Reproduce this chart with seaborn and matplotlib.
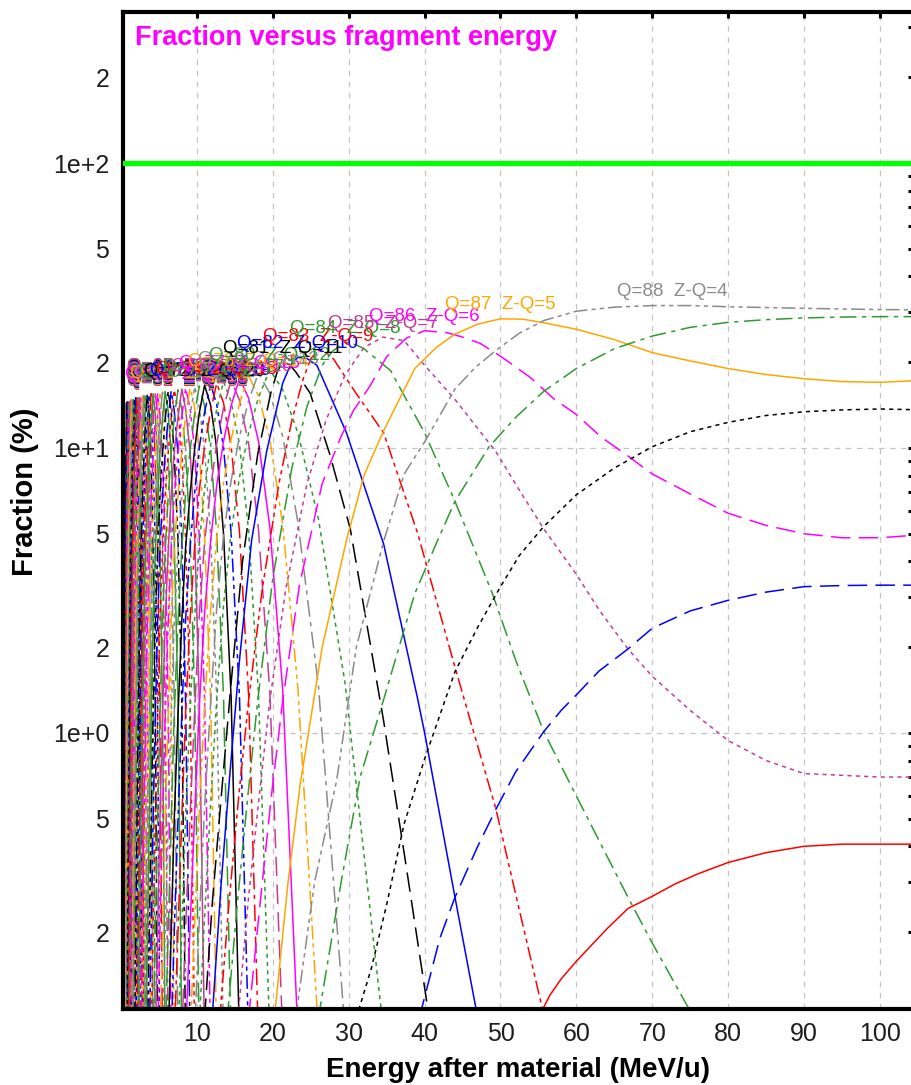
import numpy as np
import pandas as pd
import matplotlib

matplotlib.use("Agg")
import matplotlib.pyplot as plt
import seaborn as sns
from matplotlib.ticker import FixedLocator, LogLocator, FuncFormatter

Z = 92

# energy (MeV/u) where each charge state Q peaks, Q = 21 .. 88
peak_q = list(range(21, 89))
peak_e = [0.10, 0.12, 0.14, 0.16, 0.19, 0.22, 0.26, 0.30, 0.35, 0.40,
          0.45, 0.50, 0.56, 0.63, 0.70, 0.78, 0.86, 0.95, 1.05, 1.15,
          1.26, 1.38, 1.50, 1.63, 1.77, 1.92, 2.08, 2.25, 2.42, 2.60,
          2.80, 3.00, 3.20, 3.45, 3.70, 3.95, 4.20, 4.50, 4.80, 5.10,
          5.45, 5.80, 6.20, 6.60, 7.00, 7.50, 8.00, 8.50, 9.10, 9.70,
          10.3, 11.0, 11.8, 12.6, 13.5, 14.5, 15.6, 16.8, 18.1, 19.6,
          21.3, 23.3, 26.0, 29.5, 34.5, 40.0, 50.0, 72.6]

# low charge states (dense bundle on the left): peak fraction (%)
dense_q = list(range(30, 81))
dense_f = [14.2, 14.2, 14.3, 14.3, 14.4, 14.4, 14.5, 14.5, 14.6, 14.6,
           14.7, 14.7, 14.8, 14.8, 14.9, 14.9, 15.0, 15.0, 15.1, 15.1,
           15.2, 15.2, 15.3, 15.3, 15.4, 15.4, 15.5, 15.5, 15.6, 15.6,
           15.7, 15.7, 15.8, 15.8, 15.9, 16.0, 16.0, 16.1, 16.2, 16.3,
           16.4, 16.5, 16.6, 16.7, 16.9, 17.1, 17.3, 17.6, 17.9, 18.3, 18.8]
# fraction relative to the peak, read at the peak energy of Q-k (rise) and Q+k (fall)
rise_rel = [0.8, 0.6, 0.42, 0.27, 0.15, 0.07, 0.03, 0.012, 0.005]
fall_rel = [0.85, 0.6, 0.3, 0.08, 0.005]

# high charge states, read point by point
e_81 = [11.0, 12.0, 13.2, 14.5, 16.0, 18.0, 19.7, 20.6, 21.3, 22.2, 23.0, 24.9, 27.5, 30.2, 34.6, 37.5, 40.6]
f_81 = [0.1, 0.25, 0.6, 1.5, 4.0, 9.5, 15.5, 18.6, 20.0, 19.6, 18.5, 15.6, 9.5, 5.2, 1.1, 0.35, 0.1]
e_82 = [12.0, 13.2, 14.3, 15.6, 17.2, 19.2, 21.3, 22.3, 23.3, 24.5, 25.8, 29.7, 34.6, 39.1, 40.0, 44.0, 47.0]
f_82 = [0.1, 0.3, 0.7, 1.8, 4.75, 9.8, 16.9, 19.5, 20.8, 20.6, 19.5, 11.3, 4.6, 1.31, 1.0, 0.265, 0.1]
e_83 = [13.0, 14.2, 15.5, 16.8, 18.6, 20.8, 22.5, 24.0, 25.0, 26.0, 27.0, 28.0, 31.0, 34.6, 39.1, 44.0, 49.4, 52.5, 55.8]
f_83 = [0.1, 0.25, 0.6, 1.3, 3.2, 7.5, 12.5, 17.5, 20.6, 22.0, 21.6, 20.5, 15.5, 11.3, 5.0, 1.7, 0.54, 0.238, 0.1]
e_84 = [14.0, 15.3, 16.7, 18.0, 20.0, 22.5, 24.5, 26.5, 27.8, 29.5, 31.0, 32.0, 35.5, 40.0, 44.0, 48.9, 52.0, 55.7, 60.0, 66.8, 70.0, 75.5]
f_84 = [0.1, 0.25, 0.6, 1.3, 3.5, 8.5, 14.0, 19.5, 21.8, 23.5, 23.0, 22.3, 18.7, 11.3, 6.5, 3.1, 1.8, 1.01, 0.60, 0.265, 0.183, 0.1]
e_85 = [15.4, 16.7, 18.2, 19.6, 21.7, 24.5, 27.0, 29.5, 32.0, 34.5, 37.3, 40.0, 44.0, 49.4, 52.5, 55.7, 60.0, 63.0, 66.8, 70.0, 75.0, 80.0, 85.0, 90.0, 100.0, 106.0]
f_85 = [0.1, 0.25, 0.6, 1.3, 3.2, 7.5, 12.5, 18.0, 22.5, 24.5, 23.8, 19.5, 14.8, 9.7, 7.1, 5.2, 3.6, 2.7, 1.97, 1.58, 1.2, 0.94, 0.8, 0.72, 0.70, 0.70]
e_86 = [16.8, 18.3, 19.8, 21.3, 23.5, 26.5, 29.0, 30.6, 32.8, 35.0, 37.6, 40.0, 42.9, 45.0, 47.3, 50.0, 53.9, 57.0, 60.0, 63.3, 66.5, 70.0, 75.0, 80.0, 85.0, 90.0, 95.0, 100.0, 106.0]
f_86 = [0.1, 0.25, 0.6, 1.3, 3.3, 7.5, 11.0, 13.5, 16.5, 20.9, 24.3, 25.8, 25.4, 24.5, 23.3, 21.0, 17.7, 14.9, 13.1, 10.9, 9.5, 8.1, 6.9, 5.9, 5.35, 5.0, 4.84, 4.84, 4.97]
e_87 = [20.2, 22.0, 23.6, 26.5, 29.7, 32.0, 34.6, 38.7, 41.5, 44.0, 47.0, 50.0, 53.0, 55.7, 60.0, 65.0, 70.0, 75.0, 80.0, 85.0, 90.0, 95.0, 100.0, 106.0]
f_87 = [0.1, 0.3, 0.66, 2.0, 4.75, 8.0, 11.5, 19.0, 22.5, 25.1, 27.2, 28.4, 28.3, 27.5, 26.1, 24.0, 21.6, 20.2, 19.0, 18.1, 17.5, 17.1, 17.0, 17.3]
e_88 = [23.0, 25.5, 28.4, 31.0, 34.6, 37.3, 40.0, 44.0, 46.7, 49.4, 52.5, 55.7, 60.0, 65.0, 70.0, 75.0, 80.0, 90.0, 100.0, 106.0]
f_88 = [0.1, 0.3, 0.68, 2.0, 4.7, 8.1, 10.5, 16.1, 19.2, 22.0, 25.3, 28.0, 30.2, 31.2, 31.6, 31.6, 31.3, 30.9, 30.6, 30.5]
e_89 = [26.0, 29.0, 31.5, 34.6, 38.7, 41.5, 44.0, 48.5, 52.0, 55.7, 60.0, 65.0, 70.0, 75.0, 80.0, 85.0, 90.0, 95.0, 100.0, 106.0]
f_89 = [0.1, 0.3, 0.7, 1.31, 3.08, 4.6, 6.5, 10.1, 12.8, 15.8, 19.0, 22.3, 24.7, 26.5, 27.6, 28.2, 28.6, 28.8, 28.9, 28.9]
e_90 = [31.0, 33.0, 35.0, 37.3, 40.0, 44.0, 47.0, 50.0, 52.5, 55.7, 60.0, 65.0, 70.0, 75.0, 80.0, 85.0, 90.0, 95.0, 100.0, 106.0]
f_90 = [0.1, 0.15, 0.25, 0.48, 0.81, 1.64, 2.35, 3.26, 4.2, 5.3, 6.85, 8.5, 10.1, 11.4, 12.3, 13.0, 13.4, 13.6, 13.7, 13.6]
e_91 = [39.3, 42.0, 44.0, 47.0, 49.4, 52.0, 55.7, 58.0, 60.0, 63.0, 66.8, 70.0, 75.0, 80.0, 85.0, 90.0, 95.0, 100.0, 106.0]
f_91 = [0.1, 0.19, 0.265, 0.4, 0.54, 0.73, 1.01, 1.2, 1.36, 1.65, 1.97, 2.33, 2.68, 2.92, 3.12, 3.26, 3.29, 3.30, 3.30]
e_92 = [55.0, 56.5, 58.0, 60.0, 62.0, 64.0, 66.8, 70.0, 73.0, 76.0, 80.0, 85.0, 90.0, 95.0, 100.0, 106.0]
f_92 = [0.1, 0.12, 0.137, 0.158, 0.18, 0.205, 0.242, 0.267, 0.295, 0.32, 0.351, 0.38, 0.40, 0.407, 0.407, 0.407]

high = {81: (e_81, f_81), 82: (e_82, f_82), 83: (e_83, f_83), 84: (e_84, f_84),
        85: (e_85, f_85), 86: (e_86, f_86), 87: (e_87, f_87), 88: (e_88, f_88),
        89: (e_89, f_89), 90: (e_90, f_90), 91: (e_91, f_91), 92: (e_92, f_92)}
labelled_q = list(range(30, 89))

colors = ["#ff0000", "#0000ff", "#000000", "#2f9a2f", "#8a8a8a",
          "#ffa500", "#ff00ff", "#c43c98", "#2f9a2f"]
dash_set = ["", (14, 6), (3, 3), (12, 4, 3, 4), (10, 3, 3, 3, 3, 3)]

# build long table
rows = []
for q, h in zip(dense_q, dense_f):
    i = peak_q.index(q)
    for k in range(len(rise_rel), 0, -1):
        rows.append((q, peak_e[i - k], h * rise_rel[k - 1]))
    rows.append((q, peak_e[i], h))
    for k in range(1, len(fall_rel) + 1):
        rows.append((q, peak_e[i + k], h * fall_rel[k - 1]))
for q, (ee, ff) in high.items():
    for e, f in zip(ee, ff):
        rows.append((q, e, f))
df = pd.DataFrame(rows, columns=["Q", "E", "F"])

all_q = sorted(df.Q.unique())
pal = {q: colors[(Z - q) % len(colors)] for q in all_q}
dashes = {q: dash_set[(Z - q) % len(dash_set)] for q in all_q}

sns.set_theme(style="white")
plt.rcParams["font.family"] = ["Liberation Sans", "DejaVu Sans"]
plt.rcParams["lines.scale_dashes"] = False

fig = plt.figure(figsize=(9.12, 10.85), dpi=100)
ax = fig.add_axes([0.1349, 0.0696, 0.8673, 0.9194])
ax.set_yscale("log")
ax.set_xlim(0.25, 104.5)
ax.set_ylim(0.107, 339)

ax.axhline(100, color="#00ff00", lw=3.8, zorder=3)
sns.lineplot(data=df, x="E", y="F", hue="Q", style="Q", palette=pal, dashes=dashes,
             estimator=None, sort=False, legend=False, linewidth=1.1, ax=ax, zorder=2)

for q in labelled_q:
    sub = df[df.Q == q]
    e_pk = peak_e[peak_q.index(q)]
    f_pk = sub.F.max()
    if e_pk < 8.4:
        ax.text(0.8, f_pk * 1.16, f"Q={q}  Z-Q={Z - q}", color=pal[q], fontsize=13.5,
                ha="left", va="baseline", clip_on=True, zorder=4)
    else:
        ax.text(e_pk, f_pk * 1.08, f"Q={q}  Z-Q={Z - q}", color=pal[q], fontsize=13.5,
                ha="center", va="baseline", clip_on=True, zorder=4)

# axes styling
ax.xaxis.set_major_locator(FixedLocator([10, 20, 30, 40, 50, 60, 70, 80, 90, 100]))
ax.yaxis.set_major_locator(LogLocator(base=10))
ax.yaxis.set_minor_locator(LogLocator(base=10, subs=np.arange(2, 10)))
ax.yaxis.set_major_formatter(FuncFormatter(lambda v, p: f"1e{int(round(np.log10(v))):+d}"))


def minor_fmt(v, p):
    lead = int(round(v / 10 ** np.floor(np.log10(v) + 1e-9)))
    return str(lead) if lead in (2, 5) else ""


ax.yaxis.set_minor_formatter(FuncFormatter(minor_fmt))
ax.grid(True, which="major", color="#c4c4c4", linestyle=(0, (4, 4)), linewidth=0.9)
ax.set_axisbelow(True)
ax.tick_params(which="both", direction="in", top=True, right=True, length=4.5, width=2.2,
               color="black", labelsize=18, labelcolor="#1e1e1e")
ax.tick_params(axis="y", which="both", pad=10)
ax.tick_params(axis="x", which="both", pad=9)
for side in ["left", "top", "bottom", "right"]:
    ax.spines[side].set_linewidth(3)
    ax.spines[side].set_color("black")
ax.set_xlabel("")
ax.set_ylabel("")

fig.text(135 / 912, 1 - 45 / 1085, "Fraction versus fragment energy", color="#ff00ff",
         fontsize=19.5, fontweight="bold", ha="left", va="baseline")
fig.text(518 / 912, 1 - 1077 / 1085, "Energy after material (MeV/u)", fontsize=20,
         fontweight="bold", ha="center", va="baseline", color="black")
fig.text(25 / 912, 1 - 492 / 1085, "Fraction (%)", fontsize=21, fontweight="bold",
         rotation=90, ha="center", va="center", color="black")

fig.savefig("out.png", dpi=100)
